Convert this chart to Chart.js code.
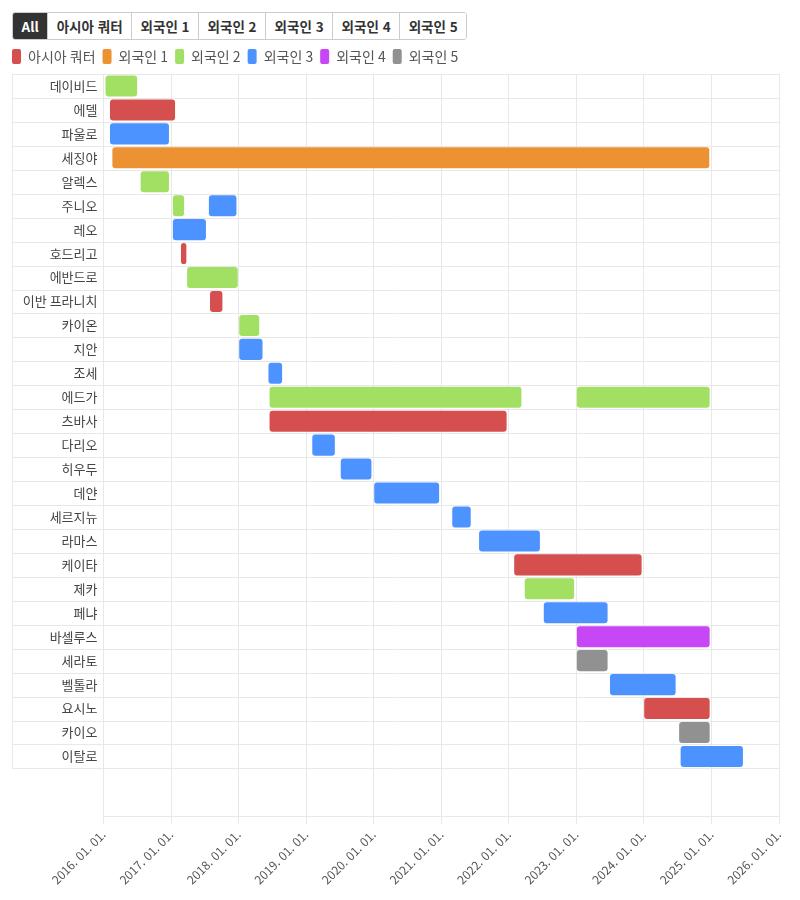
<!DOCTYPE html>
<html lang="ko">
<head>
<meta charset="utf-8">
<script src="https://cdn.jsdelivr.net/npm/chart.js@4"></script>
<style>
  body { margin: 0; background: #fff; font-family: "Noto Sans CJK KR", "Noto Sans", sans-serif; }
  .tabs { position: absolute; left: 12px; top: 12px; display: flex; border: 1px solid #ccc; border-radius: 3px; overflow: hidden; }
  .tabs button { font-family: inherit; font-size: 13.5px; font-weight: bold; color: #333; background: #fff; border: 0; border-left: 1px solid #ccc; padding: 0 8.5px; height: 26px; }
  .tabs button:first-child { border-left: 0; }
  .tabs button.active { background: #333; color: #fff; }
  #wrap { position: absolute; left: 0; top: 42px; width: 800px; height: 858px; }
</style>
</head>
<body>
<div class="tabs">
  <button class="active">All</button>
  <button>아시아 쿼터</button>
  <button>외국인 1</button>
  <button>외국인 2</button>
  <button>외국인 3</button>
  <button>외국인 4</button>
  <button>외국인 5</button>
</div>
<div id="wrap"><canvas id="chart"></canvas></div>
<script>
const players = ["데이비드", "에델", "파울로", "세징야", "알렉스", "주니오", "레오", "호드리고", "에반드로", "이반 프라니치",
  "카이온", "지안", "조세", "에드가", "츠바사", "다리오", "히우두", "데얀", "세르지뉴", "라마스",
  "케이타", "제카", "페냐", "바셀루스", "세라토", "벨톨라", "요시노", "카이오", "이탈로"];

const seriesNames = ["아시아 쿼터", "외국인 1", "외국인 2", "외국인 3", "외국인 4", "외국인 5"];
const seriesColors = ["#d64f4f", "#ec9232", "#a2e063", "#4d93ff", "#c746f6", "#919191"];

const asiaQuarter = [
  { y: "에델", x: ["2016-02-05", "2017-01-22"] },
  { y: "호드리고", x: ["2017-02-23", "2017-03-24"] },
  { y: "이반 프라니치", x: ["2017-07-30", "2017-10-05"] },
  { y: "츠바사", x: ["2018-06-17", "2021-12-20"] },
  { y: "케이타", x: ["2022-01-30", "2023-12-20"] },
  { y: "요시노", x: ["2024-01-03", "2024-12-22"] }
];
const foreign1 = [
  { y: "세징야", x: ["2016-02-18", "2024-12-20"] }
];
const foreign2 = [
  { y: "데이비드", x: ["2016-01-12", "2016-07-01"] },
  { y: "알렉스", x: ["2016-07-20", "2016-12-20"] },
  { y: "주니오", x: ["2017-01-10", "2017-03-12"] },
  { y: "에반드로", x: ["2017-03-28", "2017-12-27"] },
  { y: "카이온", x: ["2018-01-04", "2018-04-22"] },
  { y: "에드가", x: ["2018-06-17", "2022-03-10"] },
  { y: "제카", x: ["2022-03-28", "2022-12-20"] },
  { y: "에드가", x: ["2023-01-04", "2024-12-22"] }
];
const foreign3 = [
  { y: "파울로", x: ["2016-02-05", "2016-12-20"] },
  { y: "주니오", x: ["2017-07-24", "2017-12-20"] },
  { y: "레오", x: ["2017-01-10", "2017-07-08"] },
  { y: "지안", x: ["2018-01-04", "2018-05-10"] },
  { y: "조세", x: ["2018-06-11", "2018-08-24"] },
  { y: "다리오", x: ["2019-02-03", "2019-06-05"] },
  { y: "히우두", x: ["2019-07-07", "2019-12-20"] },
  { y: "데얀", x: ["2020-01-04", "2020-12-20"] },
  { y: "세르지뉴", x: ["2021-03-01", "2021-06-09"] },
  { y: "라마스", x: ["2021-07-24", "2022-06-18"] },
  { y: "페냐", x: ["2022-07-09", "2023-06-19"] },
  { y: "벨톨라", x: ["2023-07-02", "2024-06-21"] },
  { y: "이탈로", x: ["2024-07-18", "2025-06-20"] }
];
const foreign4 = [
  { y: "바셀루스", x: ["2023-01-04", "2024-12-22"] }
];
const foreign5 = [
  { y: "세라토", x: ["2023-01-04", "2023-06-19"] },
  { y: "카이오", x: ["2024-07-10", "2024-12-22"] }
];

const tickDates = ["2016-01-01", "2017-01-01", "2018-01-01", "2019-01-01", "2020-01-01", "2021-01-01",
  "2022-01-01", "2023-01-01", "2024-01-01", "2025-01-01", "2026-01-01"];

// two empty rows at the bottom leave the blank band above the date axis
const rows = players.concat(["", ""]);

function toTime(rows) {
  return rows.map(r => ({ y: r.y, x: [Date.parse(r.x[0]), Date.parse(r.x[1])] }));
}

function formatDate(ms) {
  const d = new Date(ms);
  const mm = String(d.getUTCMonth() + 1).padStart(2, "0");
  const dd = String(d.getUTCDate()).padStart(2, "0");
  return `${d.getUTCFullYear()}. ${mm}. ${dd}.`;
}

// row separators, running under the labels as well
const rowLines = {
  id: "rowLines",
  afterLayout(chart) {
    // legend items start flush with the left edge
    chart.legend.left -= 7;
  },
  beforeDatasetsDraw(chart) {
    const y = chart.scales.y;
    const ctx = chart.ctx;
    const left = y.left;
    const right = chart.chartArea.right;
    ctx.save();
    ctx.strokeStyle = "#e8e8e8";
    ctx.lineWidth = 1;
    ctx.beginPath();
    for (let i = 0; i <= players.length; i++) {
      const py = Math.round(y.getPixelForValue(i - 0.5)) + 0.5;
      ctx.moveTo(left, py);
      ctx.lineTo(right, py);
    }
    const top = Math.round(y.getPixelForValue(-0.5)) + 0.5;
    const bottom = Math.round(y.getPixelForValue(players.length - 0.5)) + 0.5;
    ctx.moveTo(Math.round(left) + 0.5, top);
    ctx.lineTo(Math.round(left) + 0.5, bottom);
    ctx.stroke();
    ctx.restore();
  }
};

const allSeries = [asiaQuarter, foreign1, foreign2, foreign3, foreign4, foreign5];

new Chart(document.getElementById("chart"), {
  type: "bar",
  data: {
    labels: rows,
    datasets: allSeries.map((s, i) => ({
      label: seriesNames[i],
      data: toTime(s),
      backgroundColor: seriesColors[i],
      borderRadius: 3,
      borderSkipped: false,
      grouped: false,
      categoryPercentage: 1,
      barPercentage: 0.88
    }))
  },
  options: {
    indexAxis: "y",
    responsive: true,
    maintainAspectRatio: false,
    animation: false,
    layout: { padding: { left: 12, right: 21, top: 0, bottom: 10 } },
    plugins: {
      tooltip: { enabled: false },
      legend: {
        position: "top",
        align: "start",
        labels: {
          boxWidth: 9,
          boxHeight: 15,
          useBorderRadius: true,
          borderRadius: 2,
          padding: 7,
          color: "#555",
          font: { family: "'Noto Sans CJK KR', sans-serif", size: 14 }
        }
      }
    },
    scales: {
      x: {
        type: "linear",
        min: Date.parse(tickDates[0]),
        max: Date.parse(tickDates[tickDates.length - 1]),
        afterBuildTicks(scale) {
          scale.ticks = tickDates.map(d => ({ value: Date.parse(d) }));
        },
        grid: { color: "#e8e8e8" },
        border: { color: "#e8e8e8" },
        ticks: {
          minRotation: 45,
          maxRotation: 45,
          color: "#555",
          font: { family: "'Noto Sans CJK KR', sans-serif", size: 12 },
          callback: v => formatDate(v)
        }
      },
      y: {
        type: "category",
        offset: true,
        grid: { display: false, drawTicks: false },
        border: { display: false },
        afterFit(scale) { scale.width = 91.5; },
        ticks: {
          autoSkip: false,
          padding: 6,
          color: "#444",
          font: { family: "'Noto Sans CJK KR', sans-serif", size: 13 }
        }
      }
    }
  },
  plugins: [rowLines]
});
</script>
</body>
</html>
